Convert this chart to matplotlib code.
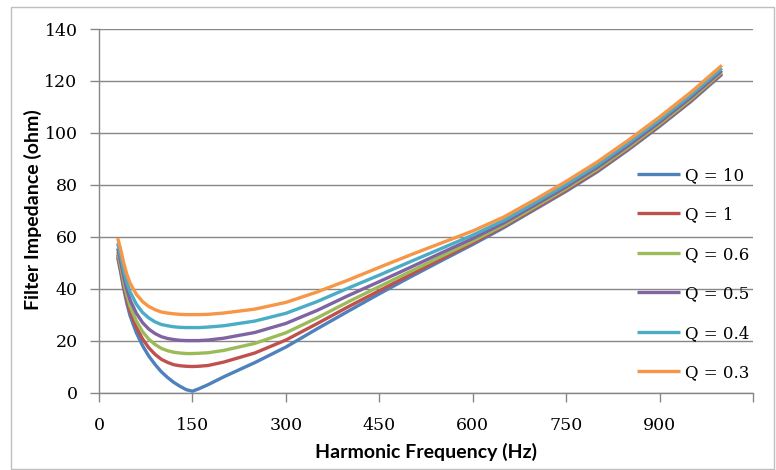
import matplotlib
matplotlib.use("Agg")
import matplotlib.pyplot as plt
from matplotlib.patches import Rectangle

# Harmonic frequency (Hz)
freq = [30, 35, 40, 45, 50, 60, 70, 80, 90, 100, 110, 120, 130, 140, 150, 160, 175,
        200, 250, 300, 350, 400, 450, 500, 550, 600, 650, 700, 750, 800, 850, 900, 950, 1000]

# Filter impedance (ohm)
z_q10 = [52.0, 46.0, 39.5, 34.0, 29.5, 23.0, 18.0, 14.0, 10.8, 8.0, 5.8, 3.9, 2.4, 1.1, 0.5, 1.4, 3.0,
         6.0, 11.5, 17.5, 24.5, 31.3, 38.0, 44.5, 50.8, 57.0, 63.5, 70.5, 77.5, 85.0, 93.5, 102.5, 112.0, 122.5]
z_q1 = [53.0, 47.1, 40.7, 35.4, 31.1, 25.1, 20.6, 17.2, 14.7, 12.8, 11.6, 10.7, 10.3, 10.1, 10.0, 10.1, 10.4,
        11.7, 15.2, 20.2, 26.5, 33.0, 39.2, 45.4, 51.5, 57.6, 64.0, 70.9, 77.9, 85.4, 93.9, 102.9, 112.4, 122.9]
z_q06 = [54.0, 48.4, 42.3, 37.2, 33.1, 27.5, 23.4, 20.5, 18.5, 17.0, 16.1, 15.5, 15.2, 15.0, 15.0, 15.1, 15.3,
         16.2, 18.9, 23.0, 28.7, 34.9, 40.8, 46.6, 52.5, 58.3, 64.5, 71.5, 78.5, 86.0, 94.4, 103.4, 112.9, 123.4]
z_q05 = [55.5, 50.2, 44.3, 39.4, 35.6, 30.5, 26.9, 24.4, 22.7, 21.5, 20.8, 20.4, 20.1, 20.0, 20.0, 20.0, 20.2,
         20.9, 23.1, 26.6, 31.6, 37.3, 42.7, 48.2, 53.8, 59.3, 65.3, 72.2, 79.2, 86.7, 95.1, 104.1, 113.6, 124.0]
z_q04 = [57.5, 52.4, 46.7, 42.2, 38.7, 34.0, 30.8, 28.7, 27.2, 26.2, 25.7, 25.3, 25.1, 25.0, 25.0, 25.0, 25.2,
         25.7, 27.5, 30.5, 35.0, 40.2, 45.2, 50.4, 55.5, 60.6, 66.3, 73.1, 80.1, 87.6, 96.1, 105.0, 114.5, 124.9]
z_q03 = [59.5, 54.9, 49.6, 45.3, 42.1, 37.8, 35.0, 33.1, 31.9, 31.0, 30.6, 30.3, 30.1, 30.0, 30.0, 30.0, 30.1,
         30.6, 32.1, 34.7, 38.7, 43.3, 48.2, 53.0, 57.6, 62.2, 67.6, 74.3, 81.3, 88.8, 97.2, 106.1, 115.6, 126.0]

labels = ["Q = 10", "Q = 1", "Q = 0.6", "Q = 0.5", "Q = 0.4", "Q = 0.3"]
series = [z_q10, z_q1, z_q06, z_q05, z_q04, z_q03]
colors = ["#4F81BD", "#C0504D", "#9BBB59", "#8064A2", "#4BACC6", "#F79646"]

x_ticks = [0, 150, 300, 450, 600, 750, 900, 1050]
x_tick_labels = ["0", "150", "300", "450", "600", "750", "900", ""]
y_ticks = [0, 20, 40, 60, 80, 100, 120, 140]

W, H = 776, 470
fig = plt.figure(figsize=(W / 100, H / 100), dpi=100)
ax = fig.add_axes([99 / W, 1 - 392.5 / H, (753 - 99) / W, (392.5 - 29) / H])

for z, c, lab in zip(series, colors, labels):
    ax.plot(freq, z, color=c, lw=2.4, label=lab, solid_capstyle="butt", solid_joinstyle="round")

ax.set_xlim(0, 1050)
ax.set_ylim(0, 140)
ax.set_xticks(x_ticks)
ax.set_xticklabels(x_tick_labels)
ax.set_yticks(y_ticks)

grid_c = "#878787"
ax.grid(axis="y", color=grid_c, lw=1.0)
ax.set_axisbelow(True)
for s in ["top", "right"]:
    ax.spines[s].set_visible(False)
for s in ["left", "bottom"]:
    ax.spines[s].set_color(grid_c)
    ax.spines[s].set_linewidth(1.0)
ax.tick_params(axis="both", direction="out", length=6.5, width=1.0, color=grid_c,
               labelsize=12.5, labelcolor="#000000")
ax.tick_params(axis="x", pad=11)
ax.tick_params(axis="y", pad=9)
for t in ax.get_xticklabels() + ax.get_yticklabels():
    t.set_fontfamily("DejaVu Serif")

fig.text(426 / W, 1 - 452 / H, "Harmonic Frequency (Hz)", ha="center", va="center",
         fontsize=14, fontweight="bold", family="Lato")
fig.text(33 / W, 1 - 210 / H, "Filter Impedance (ohm)", ha="center", va="center",
         rotation=90, fontsize=14, fontweight="bold", family="Lato")

leg = ax.legend(loc="center left", bbox_to_anchor=(637 / W, 1 - 274 / H),
                bbox_transform=fig.transFigure, frameon=False, borderpad=0,
                borderaxespad=0, handlelength=2.6, handletextpad=0.3,
                labelspacing=1.35, prop={"family": "DejaVu Serif", "size": 12})

fig.add_artist(Rectangle((11 / W, 1 - 469 / H), (774 - 11) / W, (469 - 7) / H,
                         transform=fig.transFigure, fill=False, ec="#BFBFBF", lw=1.0))

fig.savefig("out.png", dpi=100)
